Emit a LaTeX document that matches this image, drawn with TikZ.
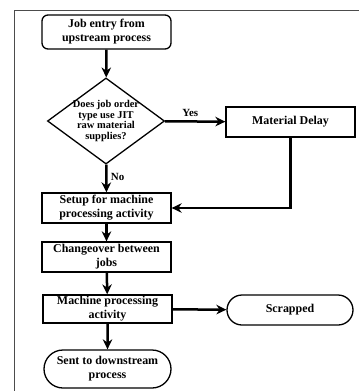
\documentclass[tikz,border=0pt]{standalone}
\usepackage{fontspec}
\setmainfont{Liberation Serif}
\usetikzlibrary{shapes.geometric,shapes.misc,arrows.meta}

\tikzset{
	box/.style = {draw, line width = 1.3bp, rectangle, align = center, minimum width = 129bp, minimum height = 30bp, inner sep = 1bp, font = \bfseries\fontsize{12}{14}\selectfont},
	startbox/.style = {box, rounded corners = 6bp},
	endbox/.style = {box, rounded rectangle},
	decision/.style = {draw, line width = 1.3bp, diamond, aspect = 1.36, align = center, inner sep = -1bp, font = \bfseries\fontsize{10.5}{10.5}\selectfont},
	flow/.style = {line width = 2.5bp, -{Stealth[length = 10bp, width = 9.5bp]}},
	tag/.style = {font = \bfseries\fontsize{11}{12}\selectfont}
}

\begin{document}
\begin{tikzpicture}[x = 1bp, y = -1bp]
\useasboundingbox (0,0) rectangle (359,391);

\draw[line width = 0.9bp, gray!60!black] (14,391) -- (14,10) -- (359,10);

\node[startbox, minimum height = 34bp] (entry) at (106.5,32) {Job entry from\\upstream process};
\node[decision] (jit) at (106,121) {Does job order\\type use JIT\\raw material\\supplies?};
\node[box] (delay) at (290.5,122) {Material Delay};
\node[box] (setup) at (106.5,208) {Setup for machine\\processing activity};
\node[box] (change) at (106.5,257) {Changeover between\\jobs};
\node[box, minimum height = 28bp] (machine) at (107.5,309) {Machine processing\\activity};
\node[endbox, minimum width = 128bp] (scrap) at (290,310) {Scrapped};
\node[endbox, minimum height = 38bp] (sent) at (107.5,369) {Sent to downstream\\process};

\draw[flow] (entry) -- (jit);
\draw[flow] (jit) -- node[tag, above, pos = 0.42] {Yes} (delay);
\draw[flow] (jit) -- node[tag, right, pos = 0.45] {No} (setup);
\draw[flow] (delay.south) |- (setup.east);
\draw[flow] (setup) -- (change);
\draw[flow] (change) -- (machine);
\draw[flow] (machine) -- (scrap);
\draw[flow] (machine) -- (sent);
\end{tikzpicture}
\end{document}
